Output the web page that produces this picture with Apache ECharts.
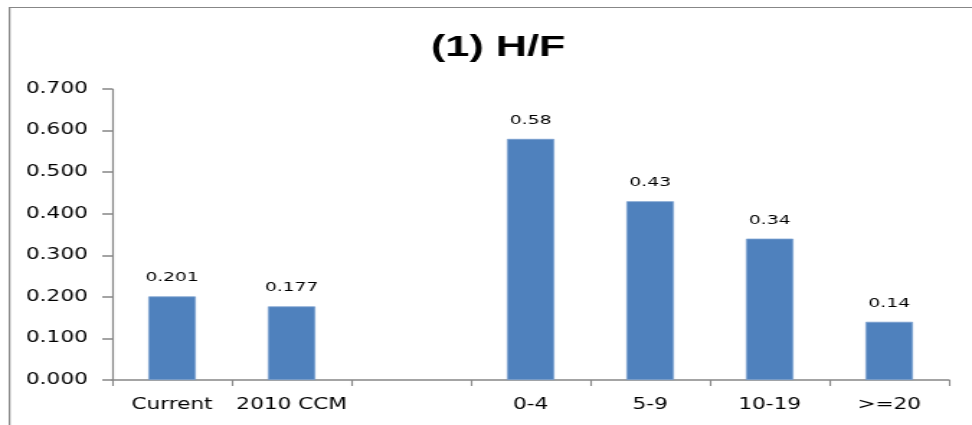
<!DOCTYPE html>
<html>
<head>
<meta charset="utf-8">
<script src="https://cdn.jsdelivr.net/npm/echarts@6/dist/echarts.min.js"></script>
<style>
  html, body { margin: 0; padding: 0; background: #fff; overflow: hidden; }
  /* The chart is laid out narrow and widened horizontally, giving the broad lettering */
  #chart { width: 675px; height: 425px; transform: scaleX(1.44); transform-origin: 0 0; }
</style>
</head>
<body>
<div id="chart"></div>
<script>
// Categories along the x axis (one empty slot separates the two groups)
const categories = ['Current', '2010 CCM', '', '0-4', '5-9', '10-19', '>=20'];
// H/F ratio per category
const values = [0.201, 0.177, null, 0.58, 0.43, 0.34, 0.14];
// Text shown above each bar
const valueLabels = ['0.201', '0.177', '', '0.58', '0.43', '0.34', '0.14'];
// Y axis range
const yMin = 0, yMax = 0.7, yStep = 0.1;

const chart = echarts.init(document.getElementById('chart'));
const axisGray = '#878787';
const textFont = 'DejaVu Sans';

chart.setOption({
  animation: false,
  backgroundColor: '#ffffff',
  title: {
    text: '(1) H/F',
    left: 341,
    textAlign: 'center',
    top: 28,
    textStyle: { fontFamily: 'Liberation Sans', fontWeight: 'bold', fontSize: 30, color: '#000' }
  },
  graphic: [{
    type: 'polyline',
    shape: { points: [[6.6, 425], [6.6, 7.5], [675, 7.5]] },
    style: { stroke: axisGray, lineWidth: 1.2, fill: null }
  }],
  grid: { left: 78, right: 16, top: 89, bottom: 45, containLabel: false },
  xAxis: {
    type: 'category',
    data: categories,
    boundaryGap: true,
    axisLine: { lineStyle: { color: axisGray, width: 1.5 } },
    axisTick: { show: true, length: 6, lineStyle: { color: axisGray, width: 1.1 } },
    axisLabel: { fontFamily: textFont, fontSize: 15, color: '#000', margin: 18, interval: 0 }
  },
  yAxis: {
    type: 'value',
    min: yMin,
    max: yMax,
    interval: yStep,
    axisLine: { show: true, lineStyle: { color: axisGray, width: 1.2 } },
    axisTick: { show: true, inside: false, length: 7, lineStyle: { color: axisGray, width: 1.5 } },
    splitLine: { show: false },
    axisLabel: {
      fontFamily: textFont, fontSize: 15, color: '#000', margin: 17,
      formatter: v => v.toFixed(3)
    }
  },
  series: [{
    type: 'bar',
    data: values,
    barWidth: 33,
    itemStyle: { color: '#4F81BD', borderColor: '#7A9FCF', borderWidth: 0.8 },
    label: {
      show: true,
      position: 'top',
      distance: 12,
      fontFamily: textFont,
      fontSize: 13,
      color: '#000',
      formatter: p => valueLabels[p.dataIndex]
    }
  }]
});
</script>
</body>
</html>
